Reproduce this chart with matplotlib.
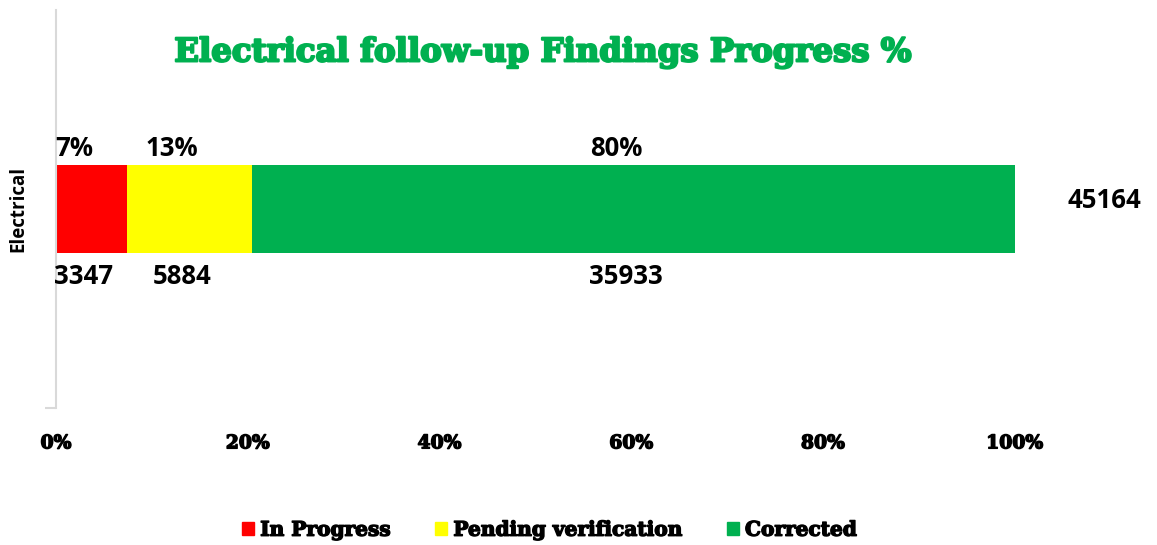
import matplotlib.pyplot as plt
import matplotlib.patheffects as pe
from matplotlib.patches import Patch

category = 'Electrical'
labels = ['In Progress', 'Pending verification', 'Corrected']
counts = [3347, 5884, 35933]
colors = ['#FF0000', '#FFFF00', '#00B050']
xticks = [0, 20, 40, 60, 80, 100]

total = sum(counts)
shares = [c / total * 100 for c in counts]

fig = plt.figure(figsize=(11.57, 5.45), dpi=100)
ax = fig.add_axes([0.0484, 0.2514, 0.8286, 0.7303])

lblfont = dict(fontsize=18.5, fontweight='bold', family='Open Sans')


def thick(col, w=1.2):
    # fake a heavier weight for the slab serif text
    return [pe.withStroke(linewidth=w, foreground=col)]


left = 0
for lab, share, cnt, col in zip(labels, shares, counts, colors):
    ax.barh(0, share, left=left, height=0.22, color=col, label=lab)
    mid = left + share / 2
    # percentage above, count below
    ax.text(mid - 1.8, 0.118, '%d%%' % round(share), ha='center',
            va='bottom', **lblfont)
    ax.text(mid - 0.8, -0.135, str(cnt), ha='center', va='top', **lblfont)
    left += share

ax.text(105.5, 0.022, str(total), ha='left', va='center', **lblfont)

ax.set_xlim(0, 100)
ax.set_ylim(-0.5, 0.5)
ax.set_xticks(xticks)
ax.set_xticklabels(['%d%%' % t for t in xticks], family='DejaVu Serif',
                   fontweight='bold', fontsize=13.5)
for t in ax.get_xticklabels():
    t.set_path_effects(thick('black', 1.0))
ax.tick_params(axis='x', length=0, pad=19)
ax.set_yticks([-0.5])
ax.set_yticklabels([''])
ax.tick_params(axis='y', length=8, color='#d9d9d9', width=1.5)

for s in ['top', 'right', 'bottom']:
    ax.spines[s].set_visible(False)
ax.spines['left'].set_color('#d9d9d9')
ax.spines['left'].set_linewidth(1.5)

fig.text(0.016, 0.616, category, rotation=90, ha='center', va='center',
         fontsize=13.5, fontweight='bold', family='Open Sans')

fig.text(0.469, 0.903, 'Electrical follow-up Findings Progress %',
         ha='center', va='center', color='#00B050', fontsize=23.3,
         fontweight='bold', family='DejaVu Serif',
         path_effects=thick('#00B050', 1.6))

handles = [Patch(color=c, label=l) for c, l in zip(colors, labels)]
leg = fig.legend(handles=handles, loc='center', bbox_to_anchor=(0.475, 0.028),
                 ncol=3, frameon=False, handlelength=0.6, handleheight=0.6,
                 handletextpad=0.3, columnspacing=2.2,
                 prop={'family': 'DejaVu Serif', 'weight': 'bold', 'size': 14.5})
for t in leg.get_texts():
    t.set_path_effects(thick('black', 1.0))

fig.savefig('out.png', dpi=100)
